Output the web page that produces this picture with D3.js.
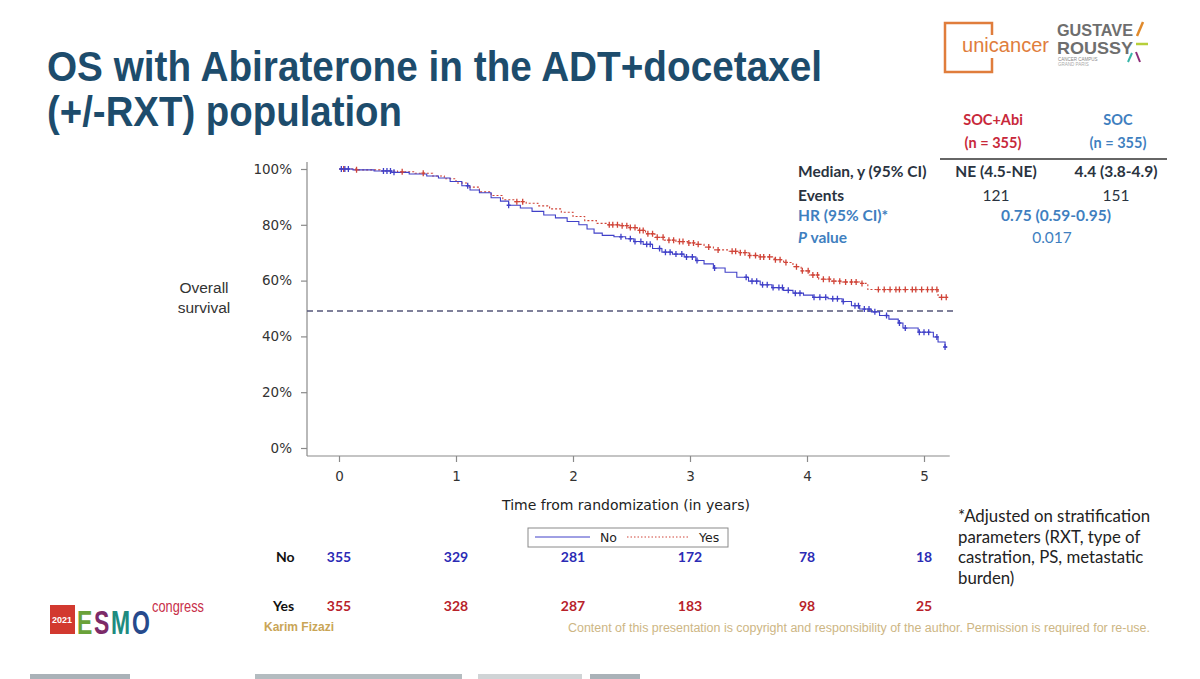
<!DOCTYPE html>
<html>
<head>
<meta charset="utf-8">
<script src="https://cdn.jsdelivr.net/npm/d3@7"></script>
<style>
  body { margin: 0; background: #fff; }
  svg { display: block; }
</style>
</head>
<body>
<div id="vis"></div>
<script>
// Kaplan-Meier steps: [years, survival]
const kmNo = [
  [0, 1.0], [0.12, 0.997], [0.3, 0.993], [0.45, 0.988], [0.6, 0.982], [0.75, 0.975],
  [0.85, 0.968], [0.95, 0.955], [1.05, 0.94], [1.12, 0.925], [1.2, 0.915], [1.3, 0.897],
  [1.38, 0.885], [1.45, 0.87], [1.55, 0.86], [1.65, 0.848], [1.75, 0.835], [1.85, 0.825],
  [1.95, 0.812], [2.05, 0.8], [2.12, 0.785], [2.18, 0.77], [2.25, 0.762], [2.35, 0.757],
  [2.45, 0.75], [2.52, 0.74], [2.6, 0.73], [2.68, 0.715], [2.76, 0.702], [2.85, 0.695],
  [2.95, 0.685], [3.05, 0.672], [3.12, 0.66], [3.2, 0.645], [3.3, 0.63], [3.4, 0.612],
  [3.5, 0.598], [3.6, 0.585], [3.7, 0.575], [3.8, 0.565], [3.88, 0.555], [3.97, 0.548],
  [4.05, 0.54], [4.18, 0.535], [4.3, 0.525], [4.38, 0.51], [4.45, 0.498], [4.55, 0.488],
  [4.62, 0.475], [4.7, 0.462], [4.78, 0.448], [4.82, 0.43], [4.95, 0.415], [5.08, 0.398],
  [5.12, 0.38], [5.18, 0.362], [5.2, 0.362]
];
const kmYes = [
  [0, 1.0], [0.15, 0.997], [0.35, 0.993], [0.5, 0.99], [0.65, 0.985], [0.8, 0.975],
  [0.9, 0.965], [1.0, 0.95], [1.1, 0.935], [1.2, 0.918], [1.3, 0.905], [1.4, 0.89],
  [1.5, 0.883], [1.6, 0.877], [1.7, 0.868], [1.8, 0.857], [1.9, 0.845], [2.0, 0.83],
  [2.1, 0.815], [2.2, 0.805], [2.3, 0.8], [2.4, 0.797], [2.48, 0.79], [2.55, 0.78],
  [2.62, 0.768], [2.7, 0.755], [2.78, 0.745], [2.88, 0.74], [2.98, 0.735], [3.05, 0.73],
  [3.12, 0.72], [3.2, 0.71], [3.32, 0.705], [3.42, 0.7], [3.5, 0.69], [3.6, 0.685],
  [3.72, 0.675], [3.8, 0.665], [3.88, 0.65], [3.95, 0.635], [4.02, 0.62], [4.1, 0.605],
  [4.2, 0.598], [4.3, 0.595], [4.45, 0.59], [4.52, 0.568], [5.12, 0.54], [5.2, 0.54]
];
// censoring times (years)
const censorNo = [0.02, 0.05, 0.08, 0.38, 0.41, 0.44, 0.47, 1.1, 1.45, 2.41, 2.49, 2.53,
  2.58, 2.63, 2.66, 2.74, 2.79, 2.83, 2.88, 2.93, 2.97, 3.02, 3.06, 3.21, 3.48, 3.53, 3.57,
  3.62, 3.66, 3.71, 3.76, 3.79, 3.84, 3.9, 3.94, 4.06, 4.11, 4.16, 4.22, 4.26, 4.31, 4.41,
  4.44, 4.49, 4.53, 4.58, 4.68, 4.79, 4.84, 4.96, 5.0, 5.04, 5.11, 5.18];
const censorYes = [0.04, 0.15, 0.54, 0.72, 1.52, 1.57, 2.31, 2.34, 2.38, 2.42, 2.46, 2.49,
  2.53, 2.57, 2.6, 2.64, 2.68, 2.72, 2.77, 2.82, 2.86, 2.91, 2.94, 2.99, 3.03, 3.07, 3.16,
  3.24, 3.36, 3.39, 3.43, 3.47, 3.51, 3.56, 3.6, 3.63, 3.68, 3.73, 3.77, 3.82, 3.91, 3.96,
  4.01, 4.05, 4.09, 4.14, 4.19, 4.23, 4.28, 4.33, 4.38, 4.42, 4.47, 4.61, 4.66, 4.71, 4.76,
  4.79, 4.84, 4.9, 4.93, 4.98, 5.03, 5.07, 5.11, 5.15, 5.19];

const yTicks = [0, 0.2, 0.4, 0.6, 0.8, 1.0];
const xTicks = [0, 1, 2, 3, 4, 5];
const atRiskNo = [355, 329, 281, 172, 78, 18];
const atRiskYes = [355, 328, 287, 183, 98, 25];

const statRows = [
  { label: "Median, y (95% CI)", abi: "NE (4.5-NE)", soc: "4.4 (3.8-4.9)" },
  { label: "Events", abi: "121", soc: "151" }
];
const footnote = ["*Adjusted on stratification", "parameters (RXT, type of", "castration, PS, metastatic", "burden)"];

const blue = "#4040c8", red = "#d04438";
const numBlue = "#2b2bb5", numRed = "#b8222a";
const tabBlue = "#3f7fbf", tabRed = "#c8283a";
const titleColor = "#1d4c6c";
const axisFont = "'DejaVu Sans', Verdana, sans-serif";

const W = 1200, H = 679;
const svg = d3.select("#vis").append("svg")
  .attr("width", W).attr("height", H)
  .style("font-family", "Lato, 'Open Sans', sans-serif");

// ---- title
const title = svg.append("g")
  .style("font-family", "'Liberation Sans', Arial, sans-serif")
  .style("font-weight", "bold")
  .style("font-size", "43px")
  .attr("fill", titleColor);
title.append("text").attr("x", 47).attr("y", 81)
  .attr("textLength", 775).attr("lengthAdjust", "spacingAndGlyphs")
  .text("OS with Abiraterone in the ADT+docetaxel");
title.append("text").attr("x", 47).attr("y", 126)
  .attr("textLength", 355).attr("lengthAdjust", "spacingAndGlyphs")
  .text("(+/-RXT) population");

// ---- scales
const x = d3.scaleLinear().domain([0, 5]).range([339, 924]);
const y = d3.scaleLinear().domain([0, 1]).range([448, 169]);
const xEnd = x(5.22), yBase = 456, yAxisX = 307;

const chart = svg.append("g").style("font-family", axisFont);

// y axis
const yAxis = chart.append("g")
  .attr("transform", `translate(${yAxisX},0)`)
  .call(d3.axisLeft(y).tickValues(yTicks).tickFormat(d3.format(".0%")).tickSize(6).tickPadding(9));
yAxis.select(".domain").attr("d", `M0,162V${yBase}`);

// x axis
const xAxis = chart.append("g")
  .attr("transform", `translate(0,${yBase})`)
  .call(d3.axisBottom(x).tickValues(xTicks).tickFormat(d3.format("d")).tickSize(6).tickPadding(9));
xAxis.select(".domain").attr("d", `M${yAxisX},0H${xEnd}`);

chart.selectAll(".tick text").attr("fill", "#333")
  .style("font-family", axisFont).style("font-size", "13.5px");
chart.selectAll(".domain, .tick line").attr("stroke", "#8a8a8a").attr("stroke-width", 1.2);

// axis titles
chart.append("text").attr("x", 626).attr("y", 510).attr("text-anchor", "middle")
  .attr("fill", "#222").style("font-size", "14px")
  .text("Time from randomization (in years)");
const ylab = svg.append("text").attr("text-anchor", "middle").attr("fill", "#333")
  .style("font-family", "'Liberation Sans', Arial, sans-serif").style("font-size", "15.5px");
ylab.append("tspan").attr("x", 204).attr("y", 293).text("Overall");
ylab.append("tspan").attr("x", 204).attr("y", 313).text("survival");

// median reference line
chart.append("line")
  .attr("x1", yAxisX).attr("x2", x(5.28))
  .attr("y1", y(0.5) + 2.5).attr("y2", y(0.5) + 2.5)
  .attr("stroke", "#55577a").attr("stroke-width", 1.3)
  .attr("stroke-dasharray", "6,4");

// KM curves
const line = d3.line().x(d => x(d[0])).y(d => y(d[1])).curve(d3.curveStepAfter);
chart.append("path").datum(kmYes).attr("d", line)
  .attr("fill", "none").attr("stroke", red).attr("stroke-width", 1.1)
  .attr("stroke-dasharray", "2,2");
chart.append("path").datum(kmNo).attr("d", line)
  .attr("fill", "none").attr("stroke", blue).attr("stroke-width", 1.1);

// censor marks
function survAt(km, t) {
  let s = km[0][1];
  for (const p of km) { if (p[0] <= t) s = p[1]; else break; }
  return s;
}
function censorMarks(km, times, color) {
  const g = chart.append("g").attr("stroke", color).attr("stroke-width", 1.3);
  g.selectAll("path").data(times).enter().append("path")
    .attr("d", t => {
      const cx = x(t), cy = y(survAt(km, t));
      return `M${cx},${cy - 3}V${cy + 3}M${cx - 2},${cy}H${cx + 2}`;
    });
}
censorMarks(kmYes, censorYes, red);
censorMarks(kmNo, censorNo, blue);

// legend
const leg = chart.append("g");
leg.append("rect").attr("x", 528).attr("y", 528).attr("width", 200).attr("height", 19)
  .attr("fill", "#fff").attr("stroke", "#8a8a8a").attr("stroke-width", 1);
leg.append("line").attr("x1", 535).attr("x2", 590).attr("y1", 537).attr("y2", 537)
  .attr("stroke", blue).attr("stroke-width", 1);
leg.append("text").attr("x", 600).attr("y", 542).attr("fill", "#222").style("font-size", "12.5px").text("No");
leg.append("line").attr("x1", 627).attr("x2", 688).attr("y1", 537).attr("y2", 537)
  .attr("stroke", red).attr("stroke-width", 1).attr("stroke-dasharray", "1.5,2");
leg.append("text").attr("x", 699).attr("y", 542).attr("fill", "#222").style("font-size", "12.5px").text("Yes");

// number at risk
const risk = svg.append("g").style("font-weight", "bold").style("font-size", "14px");
risk.append("text").attr("x", 276).attr("y", 562).attr("fill", "#111").text("No");
risk.append("text").attr("x", 273).attr("y", 611).attr("fill", "#111").text("Yes");
risk.selectAll(".rn").data(atRiskNo).enter().append("text")
  .attr("x", (d, i) => x(xTicks[i])).attr("y", 562).attr("text-anchor", "middle")
  .attr("fill", numBlue).text(d => d);
risk.selectAll(".ry").data(atRiskYes).enter().append("text")
  .attr("x", (d, i) => x(xTicks[i])).attr("y", 611).attr("text-anchor", "middle")
  .attr("fill", numRed).text(d => d);

// stats table
const tab = svg.append("g").style("font-size", "15.5px");
[["SOC+Abi", 993, tabRed], ["SOC", 1118, tabBlue]].forEach(([name, cx, c]) => {
  tab.append("text").attr("x", cx).attr("y", 125).attr("text-anchor", "middle")
    .attr("fill", c).style("font-weight", "bold").style("font-size", "14.5px").text(name);
  tab.append("text").attr("x", cx).attr("y", 148).attr("text-anchor", "middle")
    .attr("fill", c).style("font-weight", "bold").style("font-size", "14.5px").text("(n = 355)");
});
tab.append("line").attr("x1", 940).attr("x2", 1167).attr("y1", 159).attr("y2", 159)
  .attr("stroke", "#333").attr("stroke-width", 1.6);
statRows.forEach((r, i) => {
  const yy = 177 + i * 24;
  const bold = i === 0 ? "bold" : "normal";
  tab.append("text").attr("x", 798).attr("y", yy).attr("fill", "#2a3340")
    .style("font-weight", "bold").text(r.label);
  tab.append("text").attr("x", 996).attr("y", yy).attr("text-anchor", "middle")
    .attr("fill", "#2a3340").style("font-weight", bold).text(r.abi);
  tab.append("text").attr("x", 1116).attr("y", yy).attr("text-anchor", "middle")
    .attr("fill", "#2a3340").style("font-weight", bold).text(r.soc);
});
tab.append("text").attr("x", 798).attr("y", 221).attr("fill", tabBlue)
  .style("font-weight", "bold").text("HR (95% CI)*");
tab.append("text").attr("x", 1056).attr("y", 221).attr("text-anchor", "middle")
  .attr("fill", tabBlue).style("font-weight", "bold").text("0.75 (0.59-0.95)");
const pv = tab.append("text").attr("x", 798).attr("y", 243).attr("fill", tabBlue).style("font-weight", "bold");
pv.append("tspan").style("font-style", "italic").text("P");
pv.append("tspan").text(" value");
tab.append("text").attr("x", 1052).attr("y", 243).attr("text-anchor", "middle")
  .attr("fill", tabBlue).text("0.017");

// footnote
svg.append("g").selectAll("text").data(footnote).enter().append("text")
  .attr("x", 958).attr("y", (d, i) => 522 + i * 20.5)
  .attr("fill", "#222").style("font-size", "16.8px").text(d => d);

// footer
svg.append("text").attr("x", 264).attr("y", 631).attr("fill", "#c9a556")
  .style("font-family", "'Liberation Sans', Arial, sans-serif").style("font-size", "12px")
  .style("font-weight", "bold").text("Karim Fizazi");
svg.append("text").attr("x", 568).attr("y", 632).attr("fill", "#cdb684")
  .style("font-family", "'Liberation Sans', Arial, sans-serif").style("font-size", "12.5px")
  .attr("textLength", 582).attr("lengthAdjust", "spacingAndGlyphs")
  .text("Content of this presentation is copyright and responsibility of the author. Permission is required for re-use.");

// ESMO logo: letters at natural width, stretched vertically
const esmo = svg.append("g").style("font-family", "'Liberation Sans', Arial, sans-serif").style("font-weight", "bold");
esmo.append("rect").attr("x", 50).attr("y", 605).attr("width", 25).attr("height", 29).attr("fill", "#d2392f");
esmo.append("text").attr("x", 52).attr("y", 623).attr("fill", "#fff")
  .style("font-size", "9px").text("2021");
const esmoWord = esmo.append("g").attr("transform", "translate(0,634) scale(1,1.45)");
[["E", 77, "#6aa23a"], ["S", 94, "#7c2b68"], ["M", 111, "#1e8b80"], ["O", 132, "#264a8c"]]
  .forEach(([ch, xx, c]) => {
    esmoWord.append("text").attr("x", xx).attr("y", 0).attr("fill", c)
      .style("font-size", "23px").text(ch);
  });
esmo.append("text").attr("x", 152).attr("y", 612).attr("fill", "#c8304a").style("font-size", "17px")
  .style("font-weight", "normal").attr("textLength", 52).attr("lengthAdjust", "spacingAndGlyphs").text("congress");

// unicancer + Gustave Roussy logos
const logo = svg.append("g").style("font-family", "'Liberation Sans', Arial, sans-serif");
logo.append("path").attr("d", "M992,35V23H945V72H992V58")
  .attr("fill", "none").attr("stroke", "#e07d3c").attr("stroke-width", 2.5);
logo.append("text").attr("x", 962).attr("y", 52).attr("fill", "#e07d3c").style("font-size", "20px")
  .attr("textLength", 87).attr("lengthAdjust", "spacingAndGlyphs").text("unicancer");
logo.append("text").attr("x", 1057).attr("y", 36).attr("fill", "#6e6e6e").style("font-size", "17px")
  .style("font-weight", "bold").attr("textLength", 76).attr("lengthAdjust", "spacingAndGlyphs").text("GUSTAVE");
logo.append("text").attr("x", 1057).attr("y", 54).attr("fill", "#6e6e6e").style("font-size", "17px")
  .style("font-weight", "bold").attr("textLength", 76).attr("lengthAdjust", "spacingAndGlyphs").text("ROUSSY");
logo.append("text").attr("x", 1058).attr("y", 61).attr("fill", "#888").style("font-size", "4.5px").text("CANCER CAMPUS");
logo.append("text").attr("x", 1058).attr("y", 66).attr("fill", "#aaa").style("font-size", "4.5px").text("GRAND PARIS");
logo.append("line").attr("x1", 1137).attr("y1", 36).attr("x2", 1143).attr("y2", 22).attr("stroke", "#e08a2c").attr("stroke-width", 2.5);
logo.append("line").attr("x1", 1136).attr("y1", 44).attr("x2", 1148).attr("y2", 44).attr("stroke", "#b6cf3a").attr("stroke-width", 2.5);
logo.append("line").attr("x1", 1128).attr("y1", 62).attr("x2", 1132).attr("y2", 53).attr("stroke", "#36b5a8").attr("stroke-width", 2);
logo.append("line").attr("x1", 1136).attr("y1", 52).attr("x2", 1140).attr("y2", 62).attr("stroke", "#8c2d78").attr("stroke-width", 2);

// bottom strip of the screen capture
const strip = svg.append("g");
[[30, 100, "#aab2b8"], [255, 207, "#b4bcc0"], [478, 104, "#d0d4d6"], [590, 50, "#aab2b8"]].forEach(([sx, sw, c]) => {
  strip.append("rect").attr("x", sx).attr("y", 674).attr("width", sw).attr("height", 5).attr("fill", c);
});
</script>
</body>
</html>
